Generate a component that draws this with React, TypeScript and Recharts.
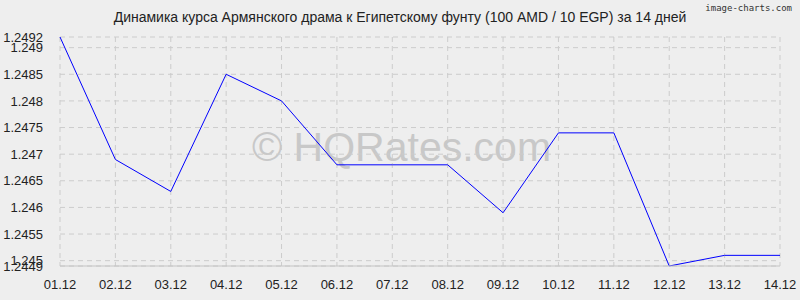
import { LineChart, Line, CartesianGrid, XAxis, YAxis } from "recharts";

const days = ["01.12", "02.12", "03.12", "04.12", "05.12", "06.12", "07.12", "08.12", "09.12", "10.12", "11.12", "12.12", "13.12", "14.12"];
const rates = [1.2492, 1.2469, 1.2463, 1.2485, 1.248, 1.2468, 1.2468, 1.2468, 1.2459, 1.2474, 1.2474, 1.2449, 1.2451, 1.2451];
const yTicks = [1.2449, 1.245, 1.2455, 1.246, 1.2465, 1.247, 1.2475, 1.248, 1.2485, 1.249, 1.2492];

const data = days.map((d, i) => ({ day: d, rate: rates[i] }));

const font = "'Liberation Sans', Arial, sans-serif";

export default function App() {
  return (
    <div style={{ position: "relative", width: 800, height: 300, background: "#eeeeee", fontFamily: font }}>
      <style>{`body{margin:0}`}</style>
      <div style={{ position: "absolute", top: 9, left: 0, width: 800, textAlign: "center", fontSize: 14, color: "#222" }}>
        Динамика курса Армянского драма к Египетскому фунту (100 AMD / 10 EGP) за 14 дней
      </div>
      <div style={{ position: "absolute", top: 3, right: 8, fontSize: 9, color: "#333", fontFamily: "'DejaVu Sans Mono', monospace" }}>
        image-charts.com
      </div>
      <div style={{ position: "absolute", top: 124, left: 252, fontSize: 41, color: "#c8c8c8", whiteSpace: "nowrap" }}>
        © HQRates.com
      </div>
      <div style={{ position: "absolute", top: 0, left: 0 }}>
        <LineChart width={800} height={300} data={data} margin={{ top: 37, right: 20, left: 0, bottom: 0 }}>
          <CartesianGrid stroke="#cccccc" strokeDasharray="5 4" />
          <XAxis
            dataKey="day"
            height={34}
            interval={0}
            stroke="#c4c4c4"
            tickLine={false}
            tick={{ fill: "#222", fontSize: 13, fontFamily: font }}
            tickMargin={8}
          />
          <YAxis
            width={60}
            domain={[1.2449, 1.2492]}
            ticks={yTicks}
            interval={0}
            axisLine={false}
            tickLine={false}
            tick={{ fill: "#222", fontSize: 13, fontFamily: font }}
            tickMargin={11}
          />
          <Line dataKey="rate" type="linear" stroke="#0000ff" strokeWidth={1} dot={false} isAnimationActive={false} />
        </LineChart>
      </div>
    </div>
  );
}
